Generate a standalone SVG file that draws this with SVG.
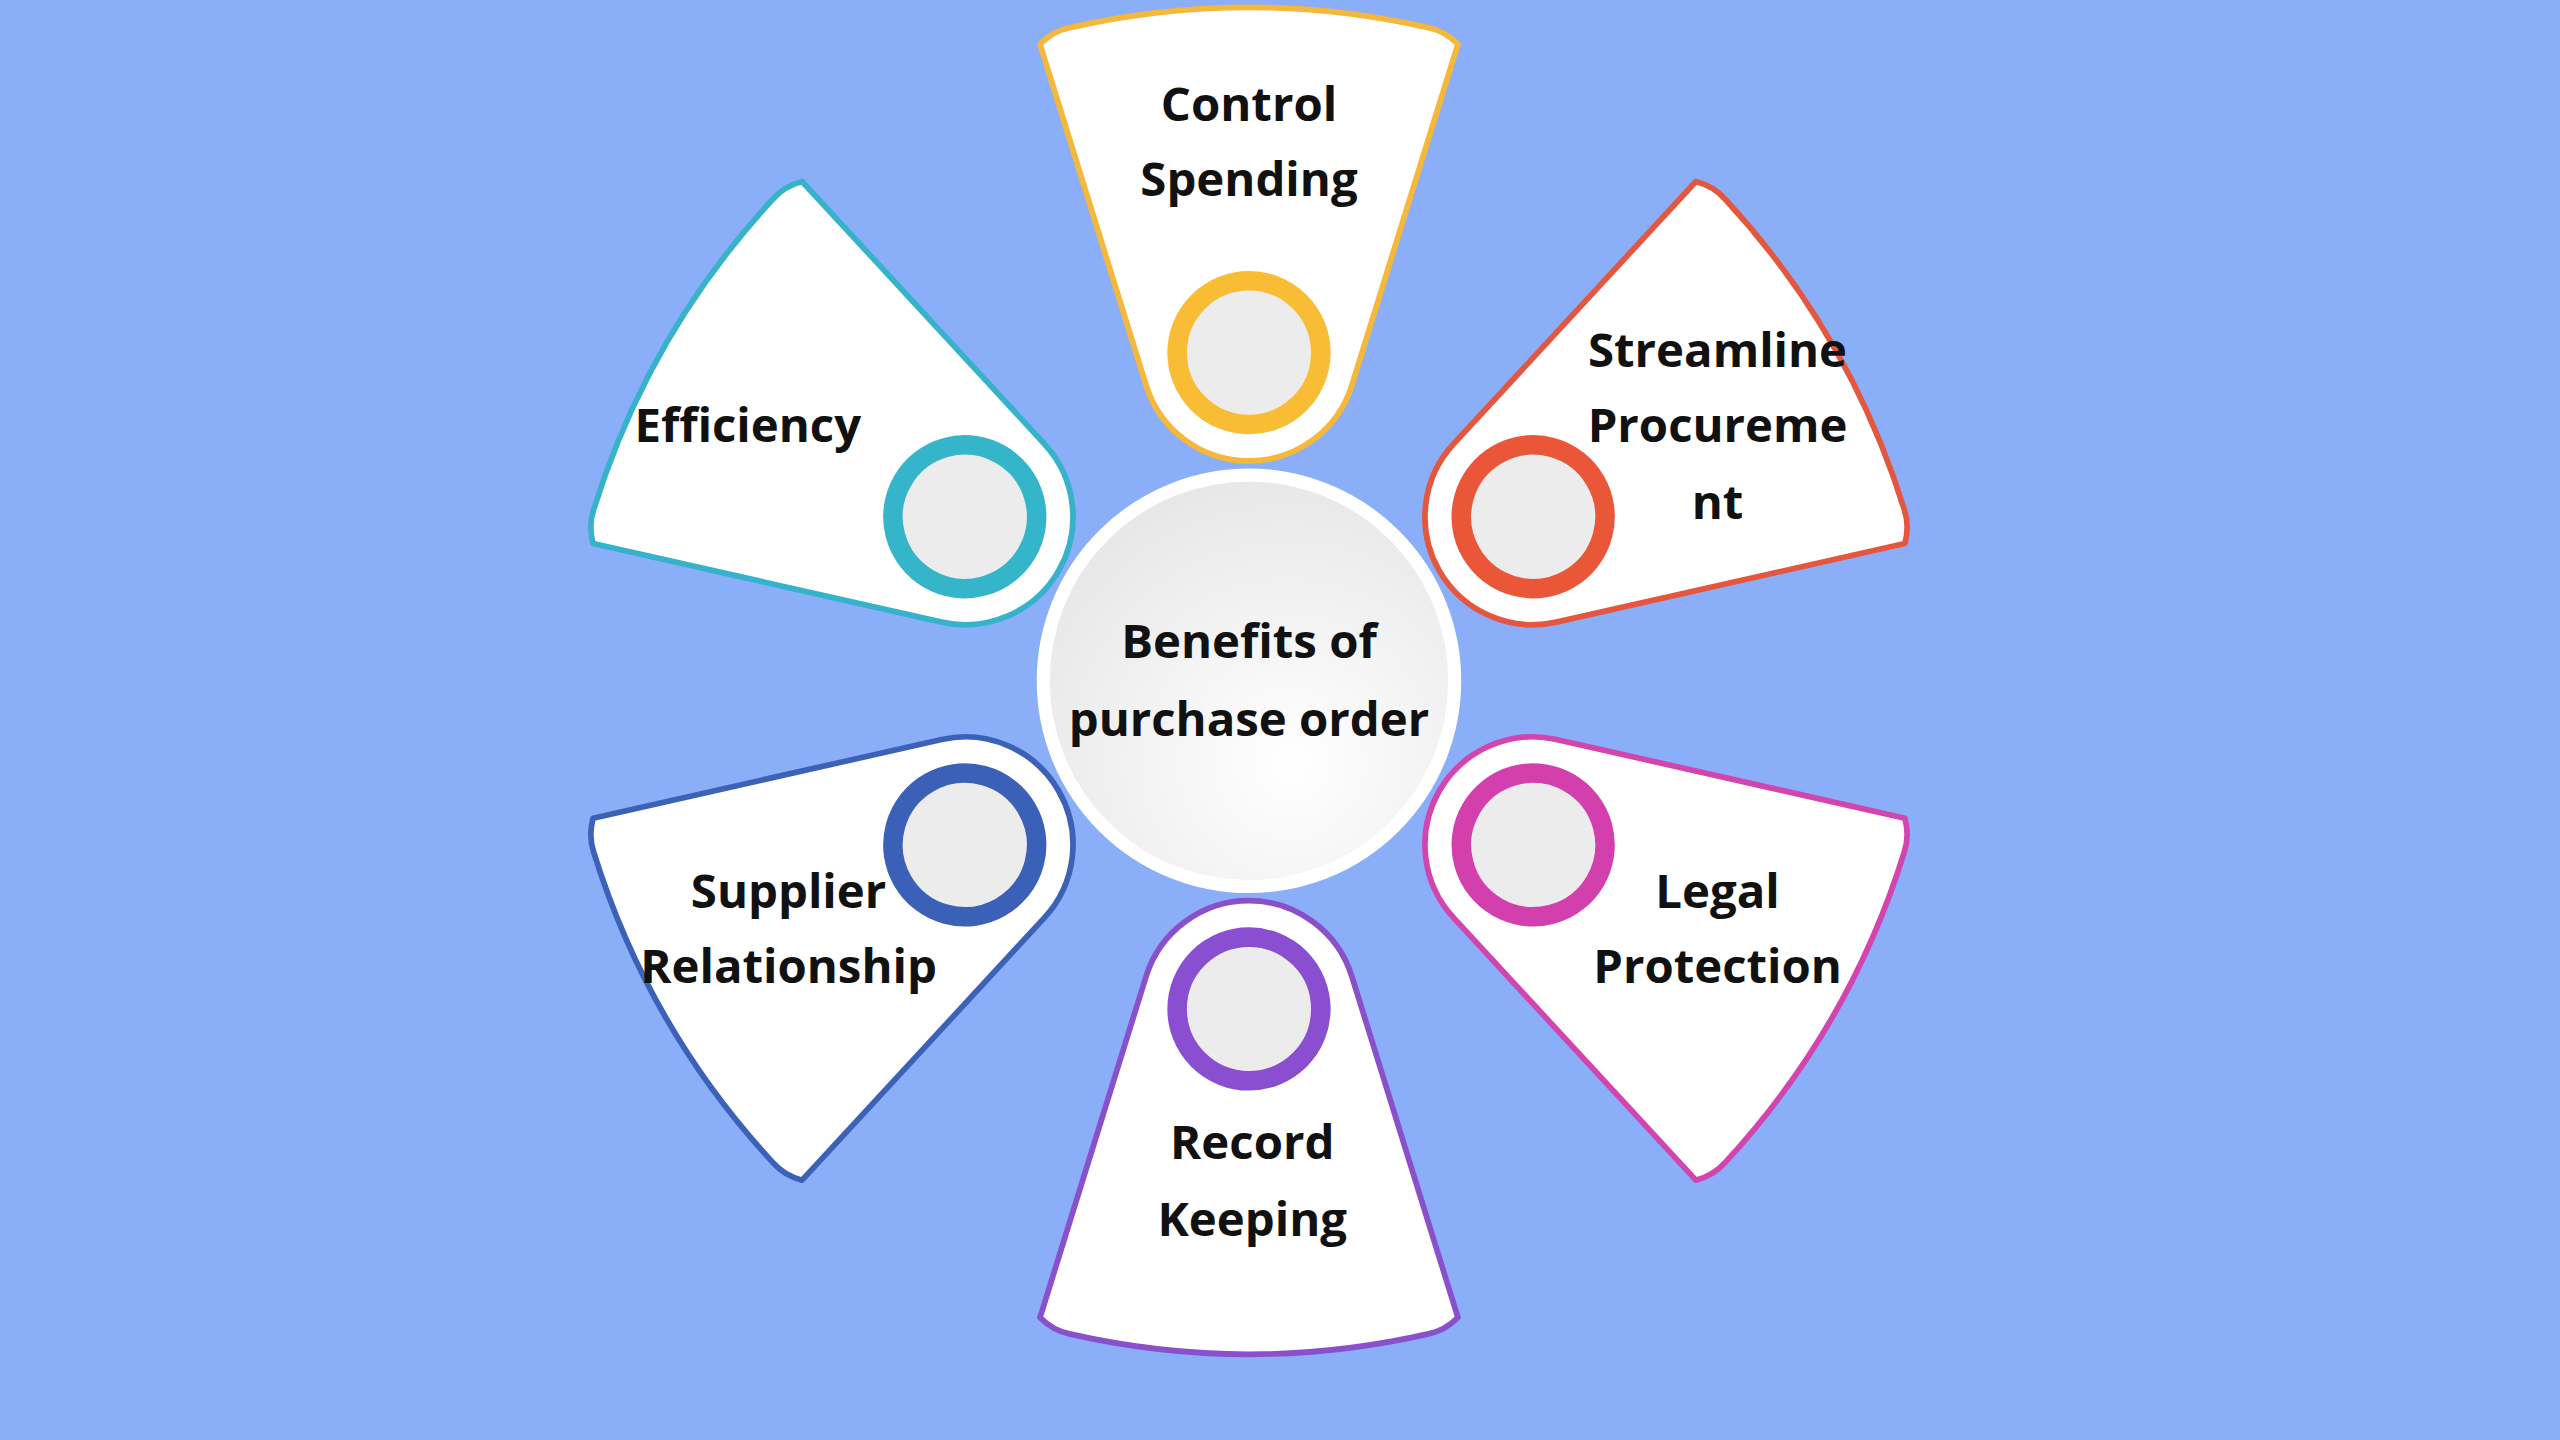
<svg xmlns="http://www.w3.org/2000/svg" width="2560" height="1440" viewBox="0 0 2560 1440">
<defs>
<style>
.p{fill:#fff;stroke-width:3.5;stroke-linejoin:round}
.r{fill:#ececec;stroke-width:12}
.t{font-family:"Open Sans","Liberation Sans",sans-serif;font-weight:700;font-size:29px;fill:#111;text-anchor:middle}
</style>
<radialGradient id="cg" cx="0.6" cy="0.7" r="0.8"><stop offset="0" stop-color="#ffffff"/><stop offset="1" stop-color="#e4e4e4"/></radialGradient>
<path id="petal" d="M -128,-390 Q -120,-398 -110,-400 Q 0,-425 110,-400 Q 120,-398 128,-390 L 63,-181 A 66 66 0 0 1 -63,-181 Z"/>
</defs>
<rect width="2560" height="1440" fill="#8AAFF8"/>
<g transform="scale(1.63265)">
<g transform="translate(765,417)">
<g id="control"><use href="#petal" class="p" stroke="#F5B83A"/><circle cx="0" cy="-201" r="44" class="r" stroke="#F9BC35"/></g>
<g id="streamline" transform="rotate(60)"><use href="#petal" class="p" stroke="#E5563F"/><circle cx="0" cy="-201" r="44" class="r" stroke="#EA5638"/></g>
<g id="legal" transform="rotate(120)"><use href="#petal" class="p" stroke="#D244AE"/><circle cx="0" cy="-201" r="44" class="r" stroke="#D43FAE"/></g>
<g id="record" transform="rotate(180)"><use href="#petal" class="p" stroke="#8A50CC"/><circle cx="0" cy="-201" r="44" class="r" stroke="#8A4FD0"/></g>
<g id="supplier" transform="rotate(240)"><use href="#petal" class="p" stroke="#3C62B8"/><circle cx="0" cy="-201" r="44" class="r" stroke="#3A60B8"/></g>
<g id="efficiency" transform="rotate(300)"><use href="#petal" class="p" stroke="#36B2CB"/><circle cx="0" cy="-201" r="44" class="r" stroke="#35B5CA"/></g>
<g id="center"><circle r="126" fill="url(#cg)" stroke="#fff" stroke-width="8"/></g>
</g>
<text class="t" x="765" y="74">Control</text><text class="t" x="765" y="120">Spending</text>
<text class="t" x="458" y="271">Efficiency</text>
<text class="t" x="1052" y="225">Streamline</text><text class="t" x="1052" y="271">Procureme</text><text class="t" x="1052" y="318">nt</text>
<text class="t" x="483" y="556">Supplier</text><text class="t" x="483" y="602">Relationship</text>
<text class="t" x="1052" y="556">Legal</text><text class="t" x="1052" y="602">Protection</text>
<text class="t" x="767" y="710">Record</text><text class="t" x="767" y="757">Keeping</text>
<text class="t" x="765" y="403">Benefits of</text><text class="t" x="765" y="451">purchase order</text>
</g>
</svg>
